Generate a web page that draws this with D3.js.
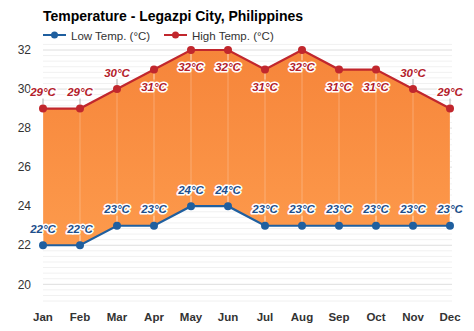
<!DOCTYPE html>
<html><head><meta charset="utf-8">
<script src="https://cdn.jsdelivr.net/npm/d3@7"></script>
<style>
html,body{margin:0;padding:0;background:#fff;}
svg{display:block;font-family:"Liberation Sans",Arial,Helvetica,sans-serif;}
</style></head>
<body><svg id="c" width="474" height="331"></svg>
<script>
const months = ["Jan","Feb","Mar","Apr","May","Jun","Jul","Aug","Sep","Oct","Nov","Dec"];
const lowTemp = [22,22,23,23,24,24,23,23,23,23,23,23];
const highTemp = [29,29,30,31,32,32,31,32,31,31,30,29];
const yTicks = [20,22,24,26,28,30,32];
const title = "Temperature - Legazpi City, Philippines";
const legendLabels = ["Low Temp. (°C)","High Temp. (°C)"];

const lowColor = "#1f5f9f", highColor = "#c1272d";
const lowText = "#1d4f8c", highText = "#b3202a";

const svg = d3.select("#c");
const x = d3.scalePoint().domain(months).range([43, 450]);
const y = d3.scaleLinear().domain([20, 32]).range([284.3, 50]);
const gx0 = 43, gx1 = 452, gyTop = 40, gyBot = 306;

const defs = svg.append("defs");
const grad = defs.append("linearGradient").attr("id","g")
  .attr("gradientUnits","userSpaceOnUse").attr("x1",0).attr("x2",0).attr("y1", y(32)).attr("y2", y(22));
grad.append("stop").attr("offset","0").attr("stop-color","#f6853a");
grad.append("stop").attr("offset","1").attr("stop-color","#fd9a4c");

// minor gridlines
const minorStep = 2/7;
const minor = [];
for (let k = -8; k <= 50; k++) {
  const v = 20 + k*minorStep;
  const py = y(v);
  if (py >= gyTop - 0.5 && py <= gyBot + 0.5 && Math.abs(((v-20)/2) - Math.round((v-20)/2)) > 1e-6) minor.push(py);
}
svg.append("g").selectAll("line").data(minor).join("line")
  .attr("x1",gx0).attr("x2",gx1).attr("y1",d=>d).attr("y2",d=>d)
  .attr("stroke","#f1f1f1").attr("stroke-width",1);
svg.append("g").selectAll("line").data(yTicks).join("line")
  .attr("x1",gx0).attr("x2",gx1).attr("y1",d=>y(d)).attr("y2",d=>y(d))
  .attr("stroke","#dedede").attr("stroke-width",1);

svg.append("g").selectAll("text").data(yTicks).join("text")
  .attr("x",31).attr("y",d=>y(d)).attr("dy","0.35em").attr("text-anchor","end")
  .attr("font-size","12px").attr("fill","#333").text(d=>d);

svg.append("g").selectAll("text").data(months).join("text")
  .attr("x",d=>x(d)).attr("y",321).attr("text-anchor","middle")
  .attr("font-size","11.5px").attr("font-weight","bold").attr("fill","#333").text(d=>d);

const rows = months.map((m,i)=>({m, lo:lowTemp[i], hi:highTemp[i]}));
svg.append("path").datum(rows)
  .attr("d", d3.area().x(d=>x(d.m)).y0(d=>y(d.lo)).y1(d=>y(d.hi)))
  .attr("fill","url(#g)");

svg.append("g").selectAll("line").data(rows).join("line")
  .attr("x1",d=>x(d.m)).attr("x2",d=>x(d.m)).attr("y1",d=>y(d.hi)).attr("y2",d=>y(d.lo))
  .attr("stroke","rgba(255,255,255,0.25)").attr("stroke-width",1);

function hiBelow(v){ return v >= 31; }
svg.append("g").selectAll("line").data(rows).join("line")
  .attr("x1",d=>x(d.m)).attr("x2",d=>x(d.m))
  .attr("y1",d=> hiBelow(d.hi) ? y(d.hi)+4 : y(d.hi)-10)
  .attr("y2",d=> hiBelow(d.hi) ? y(d.hi)+10 : y(d.hi)-4)
  .attr("stroke", d=> hiBelow(d.hi) ? "rgba(255,255,255,0.5)" : "#aaa").attr("stroke-width",1);
svg.append("g").selectAll("line").data(rows).join("line")
  .attr("x1",d=>x(d.m)).attr("x2",d=>x(d.m))
  .attr("y1",d=>y(d.lo)-10).attr("y2",d=>y(d.lo)-4)
  .attr("stroke","rgba(255,255,255,0.5)").attr("stroke-width",1);

svg.append("path").datum(rows).attr("d", d3.line().x(d=>x(d.m)).y(d=>y(d.hi)))
  .attr("fill","none").attr("stroke",highColor).attr("stroke-width",2.2);
svg.append("path").datum(rows).attr("d", d3.line().x(d=>x(d.m)).y(d=>y(d.lo)))
  .attr("fill","none").attr("stroke",lowColor).attr("stroke-width",2.2);
svg.append("g").selectAll("circle").data(rows).join("circle")
  .attr("cx",d=>x(d.m)).attr("cy",d=>y(d.hi)).attr("r",4).attr("fill",highColor);
svg.append("g").selectAll("circle").data(rows).join("circle")
  .attr("cx",d=>x(d.m)).attr("cy",d=>y(d.lo)).attr("r",4).attr("fill",lowColor);

function labels(accessor, color, posFn){
  svg.append("g").selectAll("text").data(rows).join("text")
    .attr("x",d=>x(d.m)).attr("y",d=>posFn(d))
    .attr("text-anchor","middle").attr("font-size","11.5px").attr("font-weight","bold").attr("font-style","italic")
    .attr("fill",color).attr("stroke","#fff").attr("stroke-width",3.2).attr("stroke-linejoin","round")
    .attr("paint-order","stroke").text(d=>accessor(d)+"°C");
}
labels(d=>d.hi, highText, d=> hiBelow(d.hi) ? y(d.hi)+21 : y(d.hi)-12.5);
labels(d=>d.lo, lowText, d=> y(d.lo)-12.5);

svg.append("text").attr("x",43).attr("y",21).attr("font-size","14px").attr("font-weight","bold")
  .attr("fill","#000").text(title);

const leg = [{c:lowColor, x0:43, t:legendLabels[0]},{c:highColor, x0:164, t:legendLabels[1]}];
const lg = svg.append("g").selectAll("g").data(leg).join("g");
lg.append("line").attr("x1",d=>d.x0).attr("x2",d=>d.x0+23).attr("y1",35).attr("y2",35)
  .attr("stroke",d=>d.c).attr("stroke-width",2);
lg.append("circle").attr("cx",d=>d.x0+11.5).attr("cy",35).attr("r",3.5).attr("fill",d=>d.c);
lg.append("text").attr("x",d=>d.x0+28).attr("y",39.5).attr("font-size","11.5px").attr("fill","#333").text(d=>d.t);
</script></body></html>
